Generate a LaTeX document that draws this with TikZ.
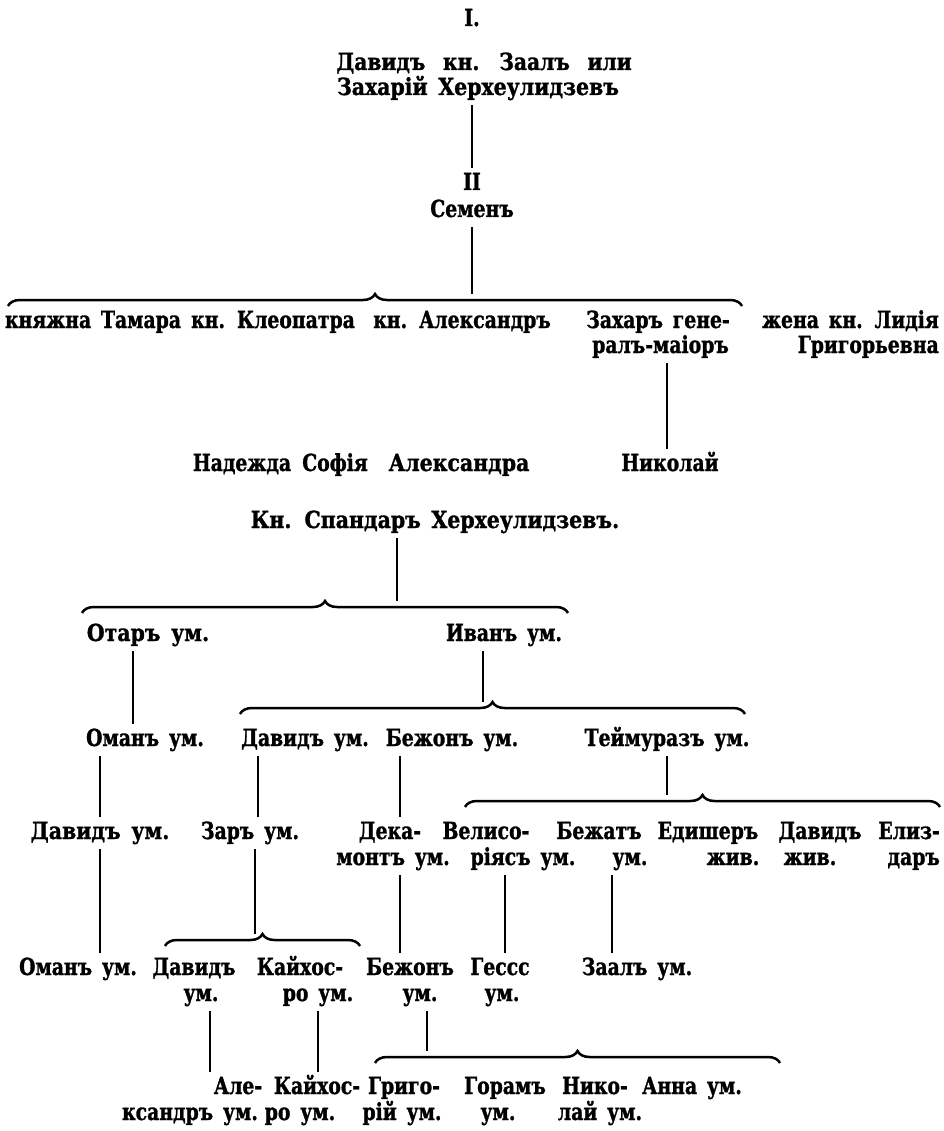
\documentclass[tikz,border=0pt]{standalone}
\usepackage{fontspec}
\newfontfamily\oldface{DejaVu Serif}[FakeStretch=0.80, FakeBold=1.2, WordSpace=1.5]
\newfontfamily\oldmid{DejaVu Serif}[FakeStretch=0.87, FakeBold=1.2, WordSpace=1.5]
\newfontfamily\oldwide{DejaVu Serif}[FakeStretch=0.86, FakeBold=1.2, WordSpace=2.5]
\usetikzlibrary{decorations.pathreplacing}
\begin{document}
\begin{tikzpicture}[x=1pt,y=-1pt,
  nm/.style={inner sep=0pt, anchor=base, text height=17pt, text depth=5pt,
    font=\oldface\bfseries\fontsize{23.5}{25}\selectfont},
  nmm/.style={nm, font=\oldmid\bfseries\fontsize{23.5}{25}\selectfont},
  nmw/.style={nm, font=\oldwide\bfseries\fontsize{23.5}{25}\selectfont},
  nmr/.style={nm, anchor=base east},
  vline/.style={line width=1.2pt, shorten <=5pt, shorten >=5pt},
  bline/.style={line width=1.2pt, shorten <=5pt},
  famb/.style={decorate, decoration={brace, amplitude=12pt}, line width=2.5pt}]
\fill[white] (0,0) rectangle (943,1131);
\useasboundingbox (0,0) rectangle (943,1131);

% ---------- first family ----------
\node[nm] (num1) at (472,26) {I.};
\node[nmw] (root1a) at (484,70) {Давидъ кн. Заалъ или};
\node[nmm] (root1b) at (478,95) {Захарій Херхеулидзевъ};
\node[nm] (num2) at (472,190) {II};
\node[nm] (semen) at (472,217) {Семенъ};

\node[nm] (tamara) at (93,328) {княжна Тамара};
\node[nm] (kleo) at (273,328) {кн. Клеопатра};
\node[nm] (alex) at (462,328) {кн. Александръ};
\node[nmr] (zahar1) at (730,328) {Захаръ гене-};
\node[nmr] (zahar2) at (729,353) {ралъ-маіоръ};
\node[nmr] (lidia1) at (939,328) {жена кн. Лидія};
\node[nmr] (lidia2) at (939,353) {Григорьевна};

\node[nm] (nadezhda) at (242,471) {Надежда};
\node[nm] (sofia) at (335,471) {Софія};
\node[nmm] (alexandra) at (459,471) {Александра};
\node[nm] (nikolai) at (670,471) {Николай};

% ---------- second family ----------
\node[nmm] (spandar) at (435,528) {Кн. Спандаръ Херхеулидзевъ.};

\node[nmm] (otar) at (148,641) {Отаръ ум.};
\node[nm] (ivan) at (504,641) {Иванъ ум.};

\node[nm] (omanD) at (145,746) {Оманъ ум.};
\node[nm] (davidD) at (305,746) {Давидъ ум.};
\node[nm] (bezhonD) at (452,746) {Бежонъ ум.};
\node[nm] (teimuraz) at (667,746) {Теймуразъ ум.};

\node[nmm] (davidE) at (100,839) {Давидъ ум.};
\node[nm] (zarE) at (250,839) {Заръ ум.};
\node[nm] (deka1) at (390,839) {Дека-};
\node[nm] (deka2) at (393,865) {монтъ ум.};
\node[nm] (veliso1) at (486,839) {Велисо-};
\node[nm] (veliso2) at (523,865) {ріясъ ум.};
\node[nm] (bezhat1) at (599,839) {Бежатъ};
\node[nm] (bezhat2) at (630,865) {ум.};
\node[nm] (edisher1) at (708,839) {Едишеръ};
\node[nm] (edisher2) at (733,865) {жив.};
\node[nm] (davidE3a) at (820,839) {Давидъ};
\node[nm] (davidE3b) at (810,865) {жив.};
\node[nmr] (eliz1) at (940,839) {Елиз-};
\node[nmr] (eliz2) at (940,865) {даръ};

\node[nm] (omanF) at (78,975) {Оманъ ум.};
\node[nm] (davidF1) at (194,975) {Давидъ};
\node[nm] (davidF2) at (201,1001) {ум.};
\node[nm] (kaikhF1) at (300,975) {Кайхос-};
\node[nm] (kaikhF2) at (318,1001) {ро ум.};
\node[nm] (bezhonF1) at (410,975) {Бежонъ};
\node[nm] (bezhonF2) at (420,1001) {ум.};
\node[nm] (gess1) at (500,975) {Гессс};
\node[nm] (gess2) at (502,1001) {ум.};
\node[nm] (zaal) at (637,975) {Заалъ ум.};

\node[nm] (ale1) at (238,1094) {Але-};
\node[nm] (ale2) at (190,1120) {ксандръ ум.};
\node[nm] (kaikhG1) at (317,1094) {Кайхос-};
\node[nm] (kaikhG2) at (300,1120) {ро ум.};
\node[nm] (grig1) at (404,1094) {Григо-};
\node[nm] (grig2) at (402,1120) {рій ум.};
\node[nm] (goram1) at (505,1094) {Горамъ};
\node[nm] (goram2) at (498,1120) {ум.};
\node[nm] (niko1) at (595,1094) {Нико-};
\node[nm] (niko2) at (600,1120) {лай ум.};
\node[nm] (anna) at (692,1094) {Анна ум.};

% ---------- braces over the children ----------
\coordinate (br1l) at (8,306);   \coordinate (br1r) at (742,306);
\coordinate (br2l) at (82,613);  \coordinate (br2r) at (568,613);
\coordinate (br3l) at (240,714); \coordinate (br3r) at (745,714);
\coordinate (br4l) at (465,807); \coordinate (br4r) at (940,807);
\coordinate (br5l) at (165,946); \coordinate (br5r) at (360,946);
\coordinate (br6l) at (375,1063);\coordinate (br6r) at (780,1063);
\foreach \b in {1,...,6} \draw[famb] (br\b l) -- (br\b r);

% points where a parent's line meets its brace
\coordinate (br1in) at (472,294);
\coordinate (br2in) at (397,601);
\coordinate (br3in) at (483,702);
\coordinate (br4in) at (667,795);
\coordinate (br5in) at (255,934);
\coordinate (br6in) at (427,1051);

% columns of the straight descent lines
\coordinate (kRoot) at (472,0);
\coordinate (kZahar) at (667,0);
\coordinate (kOtar) at (133,0);
\coordinate (kOman) at (100,0);
\coordinate (kDavid) at (258,0);
\coordinate (kBezhon) at (400,0);
\coordinate (kVeliso) at (505,0);
\coordinate (kBezhat) at (612,0);
\coordinate (kAle) at (210,0);
\coordinate (kKaikh) at (318,0);

% ---------- connectors ----------
\draw[vline] (root1b.south -| kRoot) -- (num2.north -| kRoot);
\draw[bline] (semen.south -| br1in) -- (br1in);
\draw[vline] (zahar2.south -| kZahar) -- (nikolai.north -| kZahar);

\draw[bline] (spandar.south -| br2in) -- (br2in);
\draw[vline] (otar.south -| kOtar) -- (omanD.north -| kOtar);
\draw[bline] (ivan.south -| br3in) -- (br3in);

\draw[vline] (omanD.south -| kOman) -- (davidE.north -| kOman);
\draw[vline] (davidD.south -| kDavid) -- (zarE.north -| kDavid);
\draw[vline] (bezhonD.south -| kBezhon) -- (deka1.north -| kBezhon);
\draw[bline] (teimuraz.south -| br4in) -- (br4in);

\draw[vline] (davidE.south -| kOman) -- (omanF.north -| kOman);
\draw[bline] (zarE.south -| br5in) -- (br5in);
\draw[vline] (deka2.south -| kBezhon) -- (bezhonF1.north -| kBezhon);
\draw[vline] (veliso2.south -| kVeliso) -- (gess1.north -| kVeliso);
\draw[vline] (bezhat2.south -| kBezhat) -- (zaal.north -| kBezhat);

\draw[vline] (davidF2.south -| kAle) -- (ale1.north -| kAle);
\draw[vline] (kaikhF2.south -| kKaikh) -- (kaikhG1.north -| kKaikh);
\draw[bline] (bezhonF2.south -| br6in) -- (br6in);
\end{tikzpicture}
\end{document}
